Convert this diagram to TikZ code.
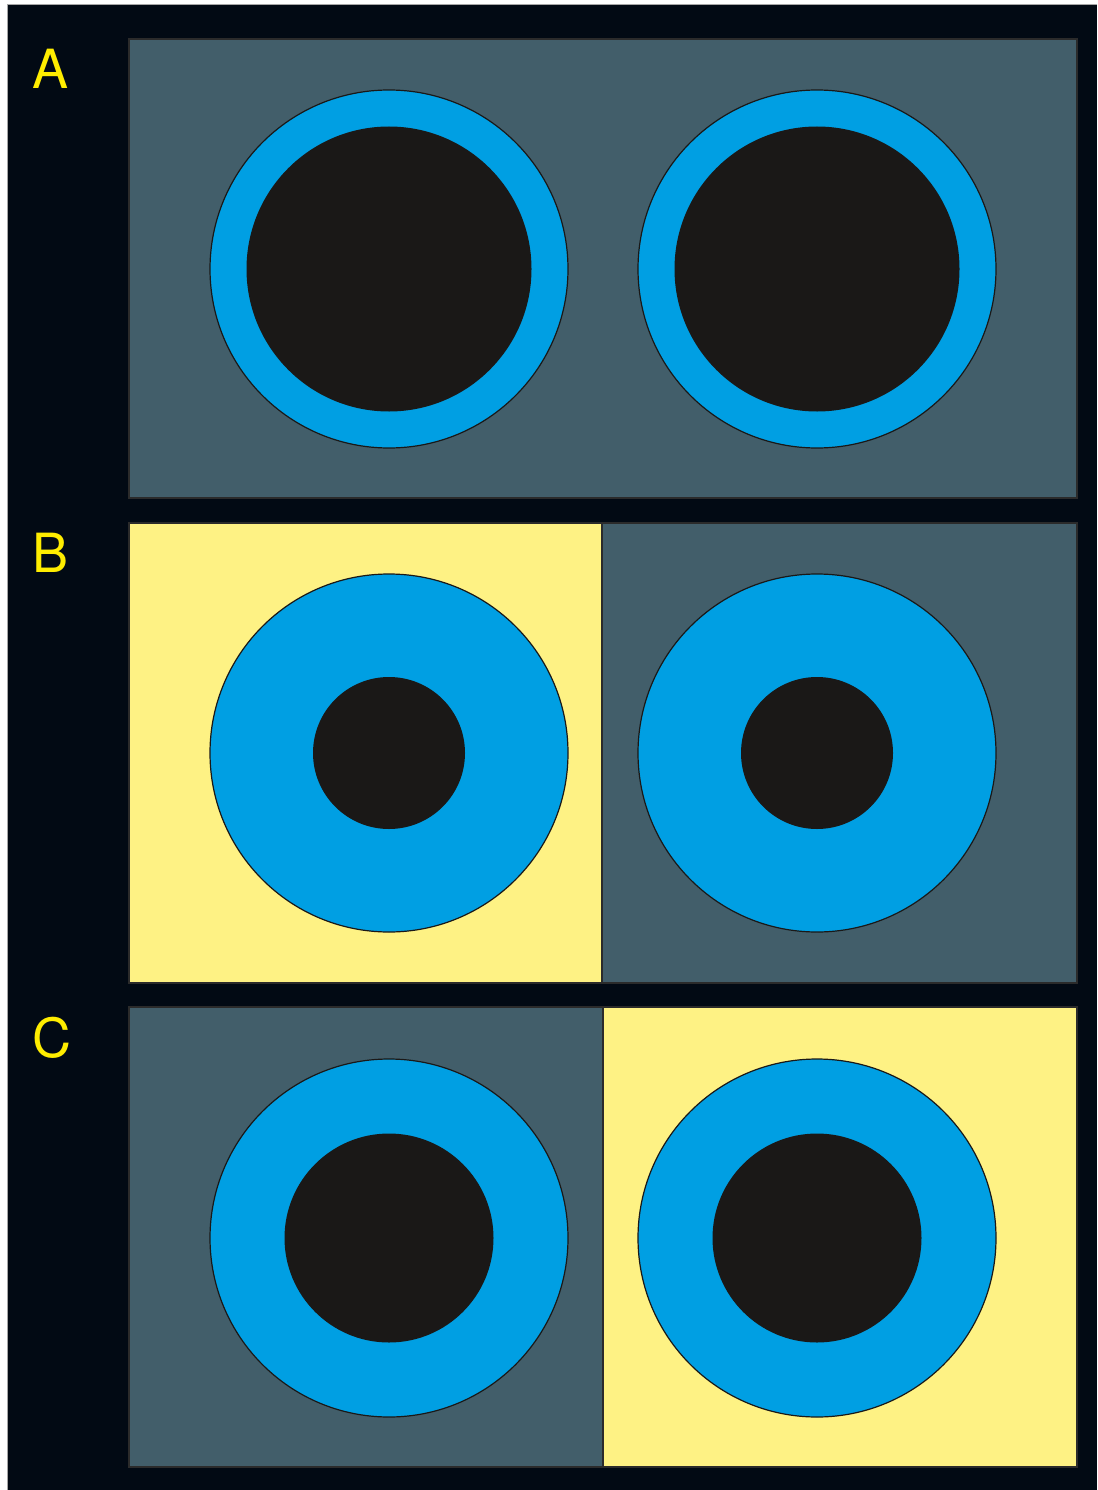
\documentclass[tikz,border=0pt]{standalone}
\usepackage{fontspec}
\setmainfont{TeX Gyre Heros}
\definecolor{bgdark}{HTML}{020A14}
\definecolor{panelgray}{HTML}{425E6A}
\definecolor{ringblue}{HTML}{009FE3}
\definecolor{coreblack}{HTML}{1A1817}
\definecolor{paleyellow}{HTML}{FEF284}
\definecolor{labelyellow}{HTML}{FFED00}
\definecolor{edgegray}{HTML}{2B2B2B}
\begin{document}
\begin{tikzpicture}[x=1pt,y=-1pt,
  panel/.style={draw=edgegray,line width=2pt},
  ring/.style={circle,draw=coreblack,line width=1.2pt,fill=ringblue,minimum size=358pt,inner sep=0pt},
  core/.style={circle,fill=coreblack,inner sep=0pt},
  lab/.style={text=labelyellow,font=\fontsize{54}{60}\selectfont,inner sep=0pt}]
\useasboundingbox (0,0) rectangle (1097,1490);
\fill[white] (0,0) rectangle (1097,1490);
\fill[bgdark] (8,5) rectangle (1097,1490);
\draw[gray!70,line width=1pt] (7.5,1490) -- (7.5,4.5) -- (1097,4.5);
% panel A
\filldraw[panel,fill=panelgray] (129,39) rectangle (1077,498);
% panel B
\filldraw[panel,fill=paleyellow] (129,523) rectangle (602,983);
\filldraw[panel,fill=panelgray] (602,523) rectangle (1077,983);
% panel C
\filldraw[panel,fill=panelgray] (129,1007) rectangle (603,1467);
\filldraw[panel,fill=paleyellow] (603,1007) rectangle (1077,1467);
% labels
\node[lab] (la) at (51,69) {A};
\node[lab] (lb) at (51,553) {B};
\node[lab] (lc) at (52,1038) {C};
% rings A
\node[ring] (a1) at (389,269) {};
\node[core,minimum size=285pt] (a1c) at (389,269) {};
\node[ring] (a2) at (817,269) {};
\node[core,minimum size=285pt] (a2c) at (817,269) {};
% rings B
\node[ring] (b1) at (389,753) {};
\node[core,minimum size=152pt] (b1c) at (389,753) {};
\node[ring] (b2) at (817,753) {};
\node[core,minimum size=152pt] (b2c) at (817,753) {};
% rings C
\node[ring] (c1) at (389,1238) {};
\node[core,minimum size=209pt] (c1c) at (389,1238) {};
\node[ring] (c2) at (817,1238) {};
\node[core,minimum size=209pt] (c2c) at (817,1238) {};
\end{tikzpicture}
\end{document}
